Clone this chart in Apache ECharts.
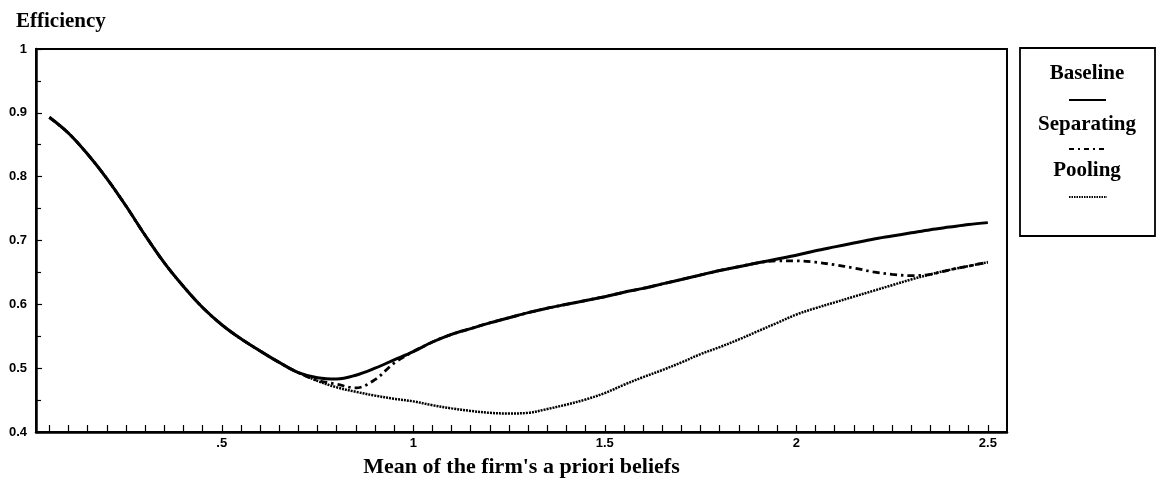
<!DOCTYPE html>
<html>
<head>
<meta charset="utf-8">
<script src="https://cdn.jsdelivr.net/npm/echarts@6/dist/echarts.min.js"></script>
<style>
html, body { margin: 0; padding: 0; background: #fff; }
#chart { width: 1156px; height: 487px; }
</style>
</head>
<body>
<div id="chart"></div>
<script>
// mean of the firm's a priori beliefs
var xs = [0.05,0.10,0.15,0.20,0.25,0.30,0.35,0.40,0.45,0.50,
          0.55,0.60,0.65,0.70,0.75,0.80,0.85,0.90,0.95,1.00,
          1.05,1.10,1.15,1.20,1.25,1.30,1.35,1.40,1.45,1.50,
          1.55,1.60,1.65,1.70,1.75,1.80,1.85,1.90,1.95,2.00,
          2.05,2.10,2.15,2.20,2.25,2.30,2.35,2.40,2.45,2.50];

var baseline = [0.893,0.868,0.835,0.797,0.754,0.708,0.665,0.628,0.595,0.568,
                0.546,0.527,0.509,0.493,0.485,0.483,0.489,0.500,0.513,0.526,
                0.541,0.553,0.562,0.571,0.579,0.587,0.594,0.600,0.606,0.612,
                0.619,0.625,0.632,0.639,0.646,0.653,0.659,0.665,0.671,0.677,
                0.684,0.690,0.696,0.702,0.707,0.712,0.717,0.721,0.725,0.728];

var separating = [0.893,0.868,0.835,0.797,0.754,0.708,0.665,0.628,0.595,0.568,
                  0.546,0.527,0.509,0.493,0.481,0.475,0.469,0.482,0.508,0.526,
                  0.541,0.553,0.562,0.571,0.579,0.587,0.594,0.600,0.606,0.612,
                  0.619,0.625,0.632,0.639,0.646,0.653,0.659,0.665,0.668,0.668,
                  0.666,0.662,0.657,0.651,0.647,0.645,0.647,0.654,0.660,0.666];

var pooling = [0.893,0.868,0.835,0.797,0.754,0.708,0.665,0.628,0.595,0.568,
               0.546,0.527,0.509,0.493,0.480,0.470,0.463,0.457,0.452,0.448,
               0.442,0.437,0.433,0.430,0.429,0.430,0.436,0.443,0.451,0.461,
               0.474,0.486,0.497,0.509,0.522,0.533,0.545,0.558,0.571,0.584,
               0.594,0.603,0.612,0.621,0.630,0.639,0.647,0.654,0.660,0.666];

var xLabels = [0.5, 1, 1.5, 2, 2.5];
var seriesNames = ['Baseline', 'Separating', 'Pooling'];

var xTicks = [];
for (var i = 1; i <= 50; i++) xTicks.push(+(i * 0.05).toFixed(2));

function pairs(ys) {
	return xs.map(function (x, i) { return [x, ys[i]]; });
}

var serif = '"Liberation Serif", "DejaVu Serif", serif';
var sans = '"Liberation Sans", Arial, sans-serif';

var dashDot = [7, 4, 2.5, 4];
var dotted = [2, 1];

var chart = echarts.init(document.getElementById('chart'));
chart.setOption({
	animation: false,
	title: {
		text: 'Efficiency',
		left: 11,
		top: 6,
		textStyle: { fontFamily: serif, fontSize: 21, fontWeight: 'bold', color: '#000' }
	},
	grid: {
		left: 36, right: 149, top: 49, bottom: 55,
		show: true, borderColor: '#000', borderWidth: 2, backgroundColor: 'transparent'
	},
	xAxis: {
		type: 'value',
		min: 0.015,
		max: 2.55,
		name: "Mean of the firm's a priori beliefs",
		nameLocation: 'middle',
		nameGap: 24,
		nameTextStyle: { fontFamily: serif, fontSize: 22, fontWeight: 'bold', color: '#000' },
		axisLine: { show: true, lineStyle: { color: '#000', width: 2.5 } },
		axisTick: { show: true, inside: true, length: 7, customValues: xTicks, lineStyle: { color: '#000', width: 1.2 } },
		axisLabel: {
			customValues: xLabels,
			margin: 5,
			fontFamily: sans, fontSize: 13, fontWeight: 'bold', color: '#000',
			formatter: function (v) { return v === 0.5 ? '.5' : String(v); }
		},
		splitLine: { show: false }
	},
	yAxis: {
		type: 'value',
		min: 0.4,
		max: 1,
		interval: 0.1,
		axisLine: { show: true, lineStyle: { color: '#000', width: 2.5 } },
		axisTick: { show: true, inside: true, length: 6, lineStyle: { color: '#000', width: 1.2 } },
		minorTick: { show: true, splitNumber: 2, length: 5, lineStyle: { color: '#000', width: 1.2 } },
		axisLabel: {
			margin: 9,
			fontFamily: sans, fontSize: 13, fontWeight: 'bold', color: '#000',
			formatter: function (v) { return String(+v.toFixed(1)); }
		},
		splitLine: { show: false }
	},
	series: [{
		name: seriesNames[2],
		type: 'line',
		data: pairs(pooling),
		smooth: 0.35,
		showSymbol: false,
		z: 2,
		lineStyle: { color: '#000', width: 2.5, type: dotted }
	}, {
		name: seriesNames[1],
		type: 'line',
		data: pairs(separating),
		smooth: 0.35,
		showSymbol: false,
		z: 3,
		lineStyle: { color: '#000', width: 2.8, type: dashDot }
	}, {
		name: seriesNames[0],
		type: 'line',
		data: pairs(baseline),
		smooth: 0.35,
		showSymbol: false,
		z: 4,
		lineStyle: { color: '#000', width: 3 }
	}],
	graphic: [{
		type: 'rect',
		shape: { x: 1020, y: 48, width: 135, height: 188 },
		style: { fill: '#fff', stroke: '#000', lineWidth: 1.8 }
	}, {
		type: 'text', x: 1087, y: 74,
		style: { text: seriesNames[0], font: 'bold 21px ' + serif, fill: '#000', align: 'center', verticalAlign: 'middle' }
	}, {
		type: 'line', shape: { x1: 1069, y1: 100, x2: 1106, y2: 100 },
		style: { stroke: '#000', lineWidth: 2 }
	}, {
		type: 'text', x: 1087, y: 125,
		style: { text: seriesNames[1], font: 'bold 21px ' + serif, fill: '#000', align: 'center', verticalAlign: 'middle' }
	}, {
		type: 'line', shape: { x1: 1069, y1: 149, x2: 1106, y2: 149 },
		style: { stroke: '#000', lineWidth: 2, lineDash: [5, 4, 2, 4] }
	}, {
		type: 'text', x: 1087, y: 171,
		style: { text: seriesNames[2], font: 'bold 21px ' + serif, fill: '#000', align: 'center', verticalAlign: 'middle' }
	}, {
		type: 'line', shape: { x1: 1069, y1: 197, x2: 1107, y2: 197 },
		style: { stroke: '#000', lineWidth: 2, lineDash: [1.5, 1] }
	}]
});
</script>
</body>
</html>
